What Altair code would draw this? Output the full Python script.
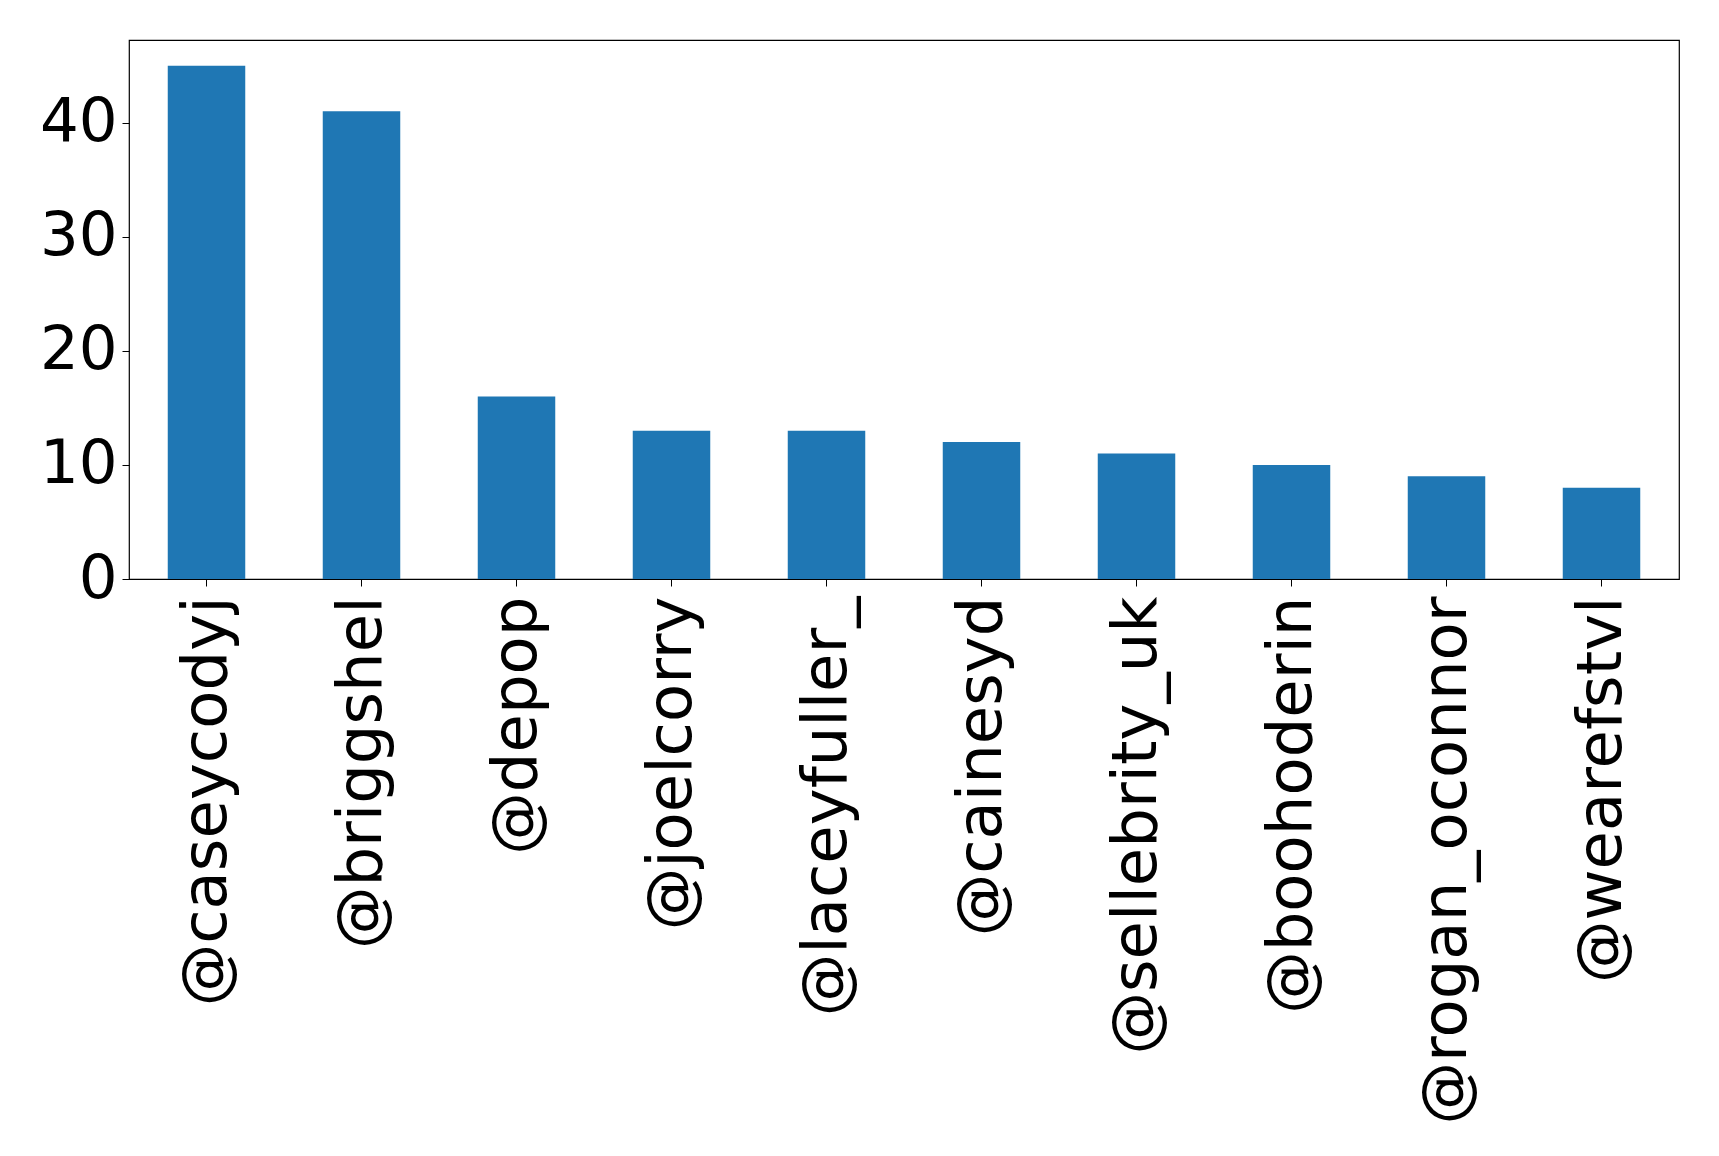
import altair as alt
import pandas as pd

# Most-mentioned accounts and their mention counts
accounts = ["@caseycodyj", "@briggshel", "@depop", "@joelcorry", "@laceyfuller_",
            "@cainesyd", "@sellebrity_uk", "@boohoderin", "@rogan_oconnor", "@wearefstvl"]
counts = [45, 41, 16, 13, 13, 12, 11, 10, 9, 8]
y_ticks = [0, 10, 20, 30, 40]

df = pd.DataFrame({"account": accounts, "count": counts})

FONT = "DejaVu Sans"

chart = (
    alt.Chart(df)
    .mark_bar(color="#1f77b4")
    .encode(
        x=alt.X(
            "account:N",
            sort=accounts,
            title=None,
            scale=alt.Scale(paddingInner=0.5, paddingOuter=0.25),
            axis=alt.Axis(
                labelAngle=270,
                labelFont=FONT,
                labelFontSize=62.5,
                labelColor="black",
                labelPadding=10,
                tickColor="black",
                tickSize=7,
                tickWidth=1,
                domain=False,
                labelLimit=0,
            ),
        ),
        y=alt.Y(
            "count:Q",
            title=None,
            scale=alt.Scale(domain=[0, 47.25], nice=False, zero=True),
            axis=alt.Axis(
                values=y_ticks,
                labelFont=FONT,
                labelFontSize=61,
                labelColor="black",
                labelPadding=5,
                tickColor="black",
                tickSize=7,
                tickWidth=1,
                domain=False,
                grid=False,
            ),
        ),
    )
    .properties(
        width=1550,
        height=539,
        autosize=alt.AutoSizeParams(type="none"),
        padding={"left": 129, "top": 40, "right": 40, "bottom": 577},
        background="white",
    )
    .configure_view(stroke="black", strokeWidth=1.2)
)

chart.save("out.html", embed_options={"renderer": "svg", "actions": False})
